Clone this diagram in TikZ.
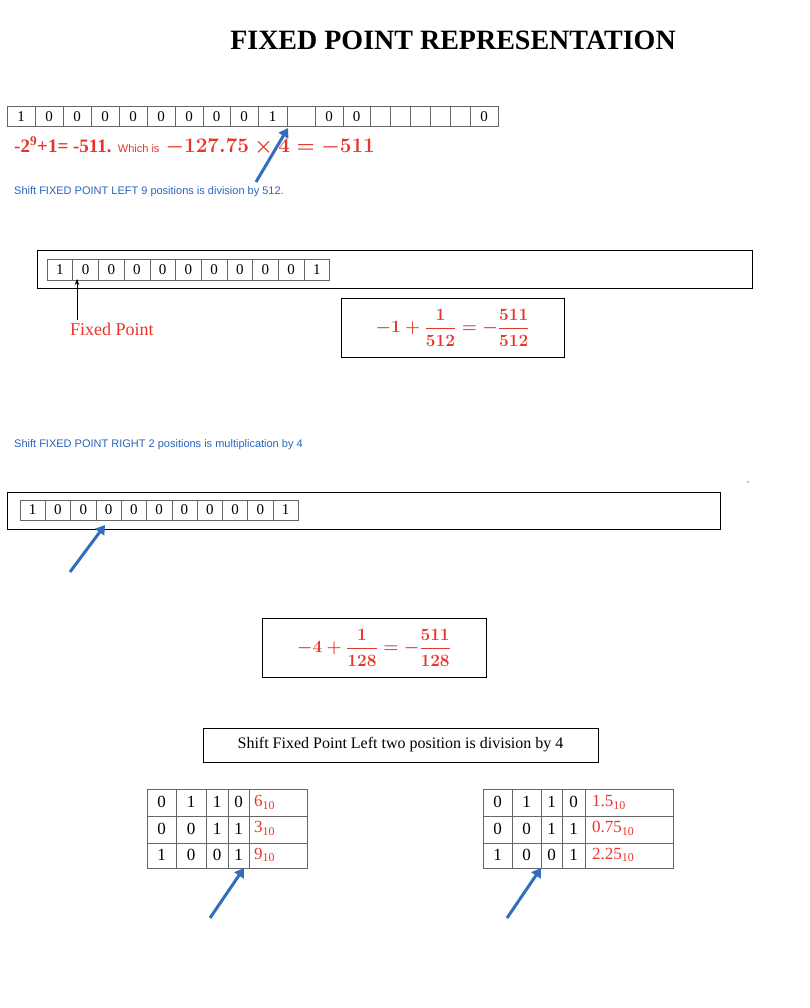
\documentclass[tikz,border=0pt]{standalone}
\usepackage{fontspec}
\setmainfont{Liberation Serif}
\setsansfont{Liberation Sans}
\usepackage{amsmath}
\usetikzlibrary{arrows.meta}
\definecolor{rd}{RGB}{232,52,42}
\definecolor{bl}{RGB}{40,100,190}
\definecolor{ab}{RGB}{50,110,190}
\tikzset{
 cell/.style={draw=gray!80!black,line width=0.6pt},
 bx/.style={draw=black,line width=0.8pt},
 barrow/.style={ab,line width=3pt,-{Triangle[length=9pt,width=11pt]}},
 bluetxt/.style={bl,font=\sffamily\fontsize{11}{12}\selectfont,anchor=west,inner sep=0},
 formula/.style={text=rd,font=\fontsize{17}{20}\selectfont\bfseries}
}
\begin{document}
\begin{tikzpicture}[x=1pt,y=-1pt]
\useasboundingbox (0,0) rectangle (810,1008);
\node[font=\fontsize{28}{30}\selectfont\bfseries] (title) at (453,40) {FIXED POINT REPRESENTATION};
% top row
\foreach \a/\b/\t [count=\i] in {7/35/1,35/63/0,63/91/0,91/119/0,119/147/0,147/175/0,175/203/0,203/230/0,230/258/0,258/287/1,287/315/,315/343/0,343/370/0,370/390/,390/410/,410/430/,430/450/,450/470/,470/498/0}{
  \draw[cell] (\a,106) rectangle (\b,126);
  \node[font=\fontsize{15}{16}\selectfont] (t\i) at ({(\a+\b)/2},116.5) {\t};
}
\node[rd,anchor=west,inner sep=0] (redline) at (14,146) {\fontsize{19}{20}\selectfont\bfseries -2\textsuperscript{9}+1= -511. \mdseries\sffamily\fontsize{11}{12}\selectfont Which is\ \ \fontsize{21}{22}\selectfont$\boldsymbol{-127.75\times 4=-511}$};
\coordinate (a1s) at (256,182); \coordinate (a1e) at (288,128);
\draw[barrow] (a1s) -- (a1e);
\node[bluetxt] (s1) at (14,192) {Shift FIXED POINT LEFT 9  positions is division  by 512.};
% middle row
\draw[bx] (37,250) rectangle (752,288);
\foreach \t [count=\i] in {1,0,0,0,0,0,0,0,0,0,1}{
  \draw[cell] ({47+(\i-1)*25.7},259) rectangle ({47+\i*25.7},280);
  \node[font=\fontsize{15}{16}\selectfont] (m\i) at ({47+(\i-0.5)*25.7},270) {\t};
}
\node[rd,anchor=west,inner sep=0,font=\fontsize{18}{20}\selectfont] (fp) at (70,329) {Fixed Point};
\coordinate (fpa) at (77,320);
\draw[-{Stealth[length=6pt]},line width=0.8pt] (fpa) -- (77,279);
\node[bx,minimum width=223pt,minimum height=59pt,formula] (f1) at (452.5,327.5) {$\boldsymbol{-1+\dfrac{1}{512}=-\dfrac{511}{512}}$};
% row 3
\node[bluetxt] (s2) at (14,445) {Shift FIXED POINT RIGHT 2 positions is multiplication by 4};
\fill (748,482) circle (0.6pt);
\draw[bx] (7,492) rectangle (720,529);
\foreach \t [count=\i] in {1,0,0,0,0,0,0,0,0,0,1}{
  \draw[cell] ({20+(\i-1)*25.3},500) rectangle ({20+\i*25.3},520);
  \node[font=\fontsize{15}{16}\selectfont] (r\i) at ({20+(\i-0.5)*25.3},510) {\t};
}
\coordinate (a2s) at (70,572); \coordinate (a2e) at (105,525);
\draw[barrow] (a2s) -- (a2e);
\node[bx,minimum width=224pt,minimum height=59pt,formula] (f2) at (374,647.5) {$\boldsymbol{-4+\dfrac{1}{128}=-\dfrac{511}{128}}$};
\node[bx,minimum width=395pt,minimum height=34pt,font=\fontsize{16}{18}\selectfont] (s3) at (400.5,745) {Shift Fixed Point Left two position is division by 4};
% tables
\foreach \x/\y/\z/\w/\v/\u [count=\k] in {147/176/206/228/249/307,483/512/541/562/585/673}{
  \foreach \ra/\rb [count=\r] in {789/816,816/843,843/868}{
    \draw[cell] (\x,\ra) rectangle (\u,\rb);
  }
  \foreach \c in {\y,\z,\w,\v} \draw[cell] (\c,789) -- (\c,868);
}
\foreach \row/\d in {1/{0,1,1,0},2/{0,0,1,1},3/{1,0,0,1}}{
  \foreach \t [count=\j] in \d {
    \pgfmathsetmacro{\lx}{{147,176,206,228,249}[\j-1]}
    \pgfmathsetmacro{\rx}{{176,206,228,249}[\j-1]}
    \node[font=\fontsize{17}{18}\selectfont] (L\row\j) at ({(\lx+\rx)/2},{789+(\row-0.5)*26.3}) {\t};
    \pgfmathsetmacro{\lxx}{{483,512,541,562}[\j-1]}
    \pgfmathsetmacro{\rxx}{{512,541,562,585}[\j-1]}
    \node[font=\fontsize{17}{18}\selectfont] (R\row\j) at ({(\lxx+\rxx)/2},{789+(\row-0.5)*26.3}) {\t};
  }
}
\foreach \row/\t/\s in {1/6/1.5,2/3/0.75,3/9/2.25}{
  \node[rd,anchor=west,font=\fontsize{17}{18}\selectfont,inner sep=0] (LV\row) at (254,{789+(\row-0.5)*26.3}) {\t\textsubscript{10}};
  \node[rd,anchor=west,font=\fontsize{17}{18}\selectfont,inner sep=0] (RV\row) at (592,{789+(\row-0.5)*26.3}) {\s\textsubscript{10}};
}
\coordinate (a3s) at (210,918); \coordinate (a3e) at (244,868);
\draw[barrow] (a3s) -- (a3e);
\coordinate (a4s) at (507,918); \coordinate (a4e) at (541,868);
\draw[barrow] (a4s) -- (a4e);
\end{tikzpicture}
\end{document}
